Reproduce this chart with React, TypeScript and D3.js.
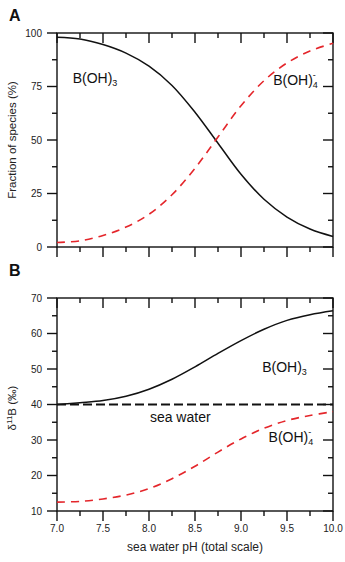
import React from 'react';
import * as d3 from 'd3';

// pH grid (0.25 steps)
const pH = [7.0, 7.25, 7.5, 7.75, 8.0, 8.25, 8.5, 8.75, 9.0, 9.25, 9.5, 9.75, 10.0];

// panel A: fraction of species (%)
const boricFraction = [98.0, 97.2, 94.6, 90.6, 84.5, 75.5, 63.0, 48.5, 34.0, 22.3, 14.0, 8.4, 4.9];
const borateFraction = [2.1, 2.9, 5.4, 9.3, 15.3, 24.4, 36.8, 51.4, 66.0, 77.7, 86.0, 91.6, 95.2];

// panel B: d11B (permil)
const boricDelta = [40.0, 40.5, 41.1, 42.3, 44.3, 47.1, 50.6, 54.4, 58.0, 61.2, 63.7, 65.3, 66.4];
const borateDelta = [12.5, 12.7, 13.4, 14.5, 16.3, 19.1, 22.6, 26.6, 30.3, 33.3, 35.5, 36.9, 38.0];
const seaWater = 40;

const xTicks = [7.0, 7.5, 8.0, 8.5, 9.0, 9.5, 10.0];
const xMinor = [7.25, 7.75, 8.25, 8.75, 9.25, 9.75];
const fracTicks = [0, 25, 50, 75, 100];
const fracMinor = [12.5, 37.5, 62.5, 87.5];
const deltaTicks = [10, 20, 30, 40, 50, 60, 70];
const deltaMinor = [15, 25, 35, 45, 55, 65];

const font = '"Liberation Sans", Arial, Helvetica, sans-serif';
const RED = '#e4262b';

const left = 57, right = 333;
const x = d3.scaleLinear().domain([7, 10]).range([left, right]);
const yA = d3.scaleLinear().domain([0, 100]).range([247, 33]);
const yB = d3.scaleLinear().domain([10, 70]).range([511, 298]);

function Frame({ y, major, minor, xLabels }: { y: d3.ScaleLinear<number, number>; major: number[]; minor: number[]; xLabels: boolean }) {
	const [bottom, top] = y.range();
	const sw = 1.4;
	return (
		<g stroke="#111" strokeWidth={sw}>
			<rect x={left} y={top} width={right - left} height={bottom - top} fill="none" />
			{xTicks.map(t => (
				<g key={'xm' + t}>
					<line x1={x(t)} x2={x(t)} y1={top} y2={top + 10} />
					<line x1={x(t)} x2={x(t)} y1={bottom} y2={bottom + 10} />
				</g>
			))}
			{xMinor.map(t => (
				<g key={'xn' + t}>
					<line x1={x(t)} x2={x(t)} y1={top} y2={top + 5} />
					<line x1={x(t)} x2={x(t)} y1={bottom} y2={bottom + 5} />
				</g>
			))}
			{major.map(t => (
				<g key={'ym' + t}>
					<line x1={left - 10} x2={left} y1={y(t)} y2={y(t)} />
					<line x1={right - 10} x2={right} y1={y(t)} y2={y(t)} />
					<text x={left - 15} y={y(t) + 3.6} textAnchor="end" stroke="none" fill="#222" fontSize={10}>{t}</text>
				</g>
			))}
			{minor.map(t => (
				<g key={'yn' + t}>
					<line x1={left - 5} x2={left} y1={y(t)} y2={y(t)} />
					<line x1={right - 5} x2={right} y1={y(t)} y2={y(t)} />
				</g>
			))}
			{xLabels && xTicks.map(t => (
				<text key={'xl' + t} x={x(t)} y={bottom + 21} textAnchor="middle" stroke="none" fill="#222" fontSize={10}>{t.toFixed(1)}</text>
			))}
		</g>
	);
}

function Borate({ px, py }: { px: number; py: number }) {
	return (
		<text x={px} y={py} fontSize={14} fill="#111">
			B(OH)
			<tspan fontSize={9} dy={-7}>-</tspan>
			<tspan fontSize={9} dx={-3} dy={10}>4</tspan>
		</text>
	);
}

function Boric({ px, py }: { px: number; py: number }) {
	return (
		<text x={px} y={py} fontSize={14} fill="#111">
			B(OH)
			<tspan fontSize={9} dy={3}>3</tspan>
		</text>
	);
}

export default function App() {
	const lineA = d3.line<number>().x((d, i) => x(pH[i])).y(d => yA(d)).curve(d3.curveCatmullRom.alpha(0.5));
	const lineB = d3.line<number>().x((d, i) => x(pH[i])).y(d => yB(d)).curve(d3.curveCatmullRom.alpha(0.5));

	return (
		<svg width={345} height={562} style={{ position: 'absolute', left: 0, top: 0, background: '#fff' }} fontFamily={font}>
			<text x={9} y={21} fontSize={16} fontWeight="bold" fill="#111">A</text>
			<text x={9} y={276} fontSize={16} fontWeight="bold" fill="#111">B</text>

			<Frame y={yA} major={fracTicks} minor={fracMinor} xLabels={false} />
			<path d={lineA(boricFraction) || ''} fill="none" stroke="#111" strokeWidth={1.5} />
			<path d={lineA(borateFraction) || ''} fill="none" stroke={RED} strokeWidth={1.6} strokeDasharray="8,6" />
			<Boric px={x(7.17)} py={yA(76.6)} />
			<Borate px={x(9.35)} py={yA(75.7)} />
			<text transform="translate(16,140) rotate(-90)" textAnchor="middle" fontSize={11.5} fill="#222">Fraction of species (%)</text>

			<Frame y={yB} major={deltaTicks} minor={deltaMinor} xLabels={true} />
			<path d={lineB(boricDelta) || ''} fill="none" stroke="#111" strokeWidth={1.5} />
			<line x1={x(7)} x2={x(10)} y1={yB(seaWater)} y2={yB(seaWater)} stroke="#111" strokeWidth={2} strokeDasharray="9,4" />
			<path d={lineB(borateDelta) || ''} fill="none" stroke={RED} strokeWidth={1.6} strokeDasharray="8,6" />
			<Boric px={x(9.23)} py={yB(49.2)} />
			<text x={x(8.01)} y={yB(35.1)} fontSize={14} fill="#111">sea water</text>
			<Borate px={x(9.3)} py={yB(29.4)} />
			<text transform="translate(16,408) rotate(-90)" textAnchor="middle" fontSize={11.5} fill="#222">
				δ<tspan fontSize={8} dy={-4}>11</tspan><tspan dy={4}>B (‰)</tspan>
			</text>
			<text x={(left + right) / 2} y={551} textAnchor="middle" fontSize={12} fill="#222">sea water pH (total scale)</text>
		</svg>
	);
}
